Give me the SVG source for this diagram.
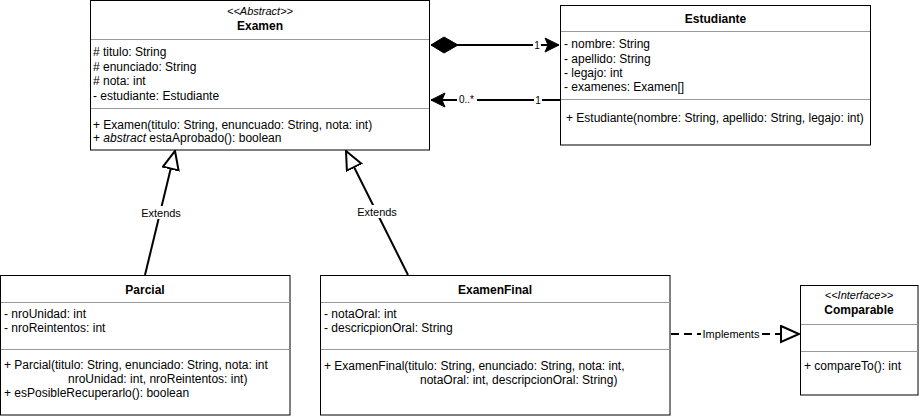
<svg xmlns="http://www.w3.org/2000/svg" width="921" height="419" viewBox="0 0 921 419">
<style>
text{font-family:"Liberation Sans",Arial,sans-serif;fill:#000}
.t{font-size:12px}
.h{font-size:12px;font-weight:bold;text-anchor:middle}
.s{font-size:11px;font-style:italic;text-anchor:middle}
.l{font-size:11px;text-anchor:middle}
.m{font-size:10px;text-anchor:middle}
.box{fill:#fff;stroke:#000;stroke-width:1}
.sep{stroke:#999;stroke-width:1}
.c{fill:none;stroke:#000;stroke-width:2}
.bg{fill:#fff}
</style>
<defs>
<marker id="tri" markerUnits="userSpaceOnUse" markerWidth="22" markerHeight="20" refX="19" refY="9" orient="auto">
<path d="M1,1 L19,9 L1,17 Z" fill="#fff" stroke="#000" stroke-width="2"/>
</marker>
<marker id="open" markerUnits="userSpaceOnUse" markerWidth="18" markerHeight="16" refX="15" refY="8" orient="auto">
<path d="M1,1 L15,8 L1,15 L4,8 Z" fill="#000" stroke="#000" stroke-width="1"/>
</marker>
<marker id="diamond" markerUnits="userSpaceOnUse" markerWidth="32" markerHeight="20" refX="1" refY="9" orient="auto">
<path d="M1,9 L14,1 L28,9 L14,17 Z" fill="#000" stroke="#000" stroke-width="1"/>
</marker>
</defs>

<g id="connectors">
<line class="c" x1="431" y1="45" x2="559" y2="45" marker-start="url(#diamond)" marker-end="url(#open)"/>
<rect class="bg" x="533" y="39" width="8" height="12"/>
<text class="m" x="537" y="48.5">1</text>
<line class="c" x1="560" y1="100" x2="431" y2="100" marker-end="url(#open)"/>
<rect class="bg" x="457" y="94" width="20" height="12"/>
<text class="m" x="466.5" y="103">0..*</text>
<rect class="bg" x="534" y="94" width="8" height="12"/>
<text class="m" x="538" y="103.5">1</text>
<line class="c" x1="145" y1="275" x2="175" y2="151" marker-end="url(#tri)"/>
<rect class="bg" x="140" y="206" width="42" height="13"/>
<text class="l" x="161" y="216.5">Extends</text>
<line class="c" x1="408" y1="275" x2="346" y2="151" marker-end="url(#tri)"/>
<rect class="bg" x="356" y="205" width="42" height="13"/>
<text class="l" x="377" y="216">Extends</text>
<line class="c" x1="671" y1="334" x2="799" y2="334" stroke-dasharray="8,5" marker-end="url(#tri)"/>
<rect class="bg" x="701" y="327" width="60" height="13"/>
<text class="l" x="731" y="338">Implements</text>
</g>

<g id="Examen">
<rect class="box" x="90.5" y="0.5" width="339" height="149.5"/>
<line class="sep" x1="91" y1="39.5" x2="429" y2="39.5"/>
<line class="sep" x1="91" y1="108.5" x2="429" y2="108.5"/>
<text class="s" x="260" y="15">&lt;&lt;Abstract&gt;&gt;</text>
<text class="h" x="260" y="29.5">Examen</text>
<text class="t" x="93" y="56"># titulo: String</text>
<text class="t" x="93" y="70.5"># enunciado: String</text>
<text class="t" x="93" y="85"># nota: int</text>
<text class="t" x="93" y="100">- estudiante: Estudiante</text>
<text class="t" x="93" y="128.5">+ Examen(titulo: String, enuncuado: String, nota: int)</text>
<text class="t" x="93" y="142">+ <tspan font-style="italic">abstract</tspan> estaAprobado(): boolean</text>
</g>

<g id="Estudiante">
<rect class="box" x="560.5" y="5.5" width="310" height="139.5"/>
<line class="sep" x1="561" y1="31.5" x2="870" y2="31.5"/>
<line class="sep" x1="561" y1="99.5" x2="870" y2="99.5"/>
<text class="h" x="715.5" y="23">Estudiante</text>
<text class="t" x="564" y="48">- nombre: String</text>
<text class="t" x="564" y="62.5">- apellido: String</text>
<text class="t" x="564" y="76.5">- legajo: int</text>
<text class="t" x="564" y="91">- examenes: Examen[]</text>
<text class="t" x="566" y="121.5">+ Estudiante(nombre: String, apellido: String, legajo: int)</text>
</g>

<g id="Parcial">
<rect class="box" x="0.5" y="275.5" width="289.5" height="139.5"/>
<line class="sep" x1="1" y1="302.5" x2="290" y2="302.5"/>
<line class="sep" x1="1" y1="349.5" x2="290" y2="349.5"/>
<text class="h" x="145" y="294">Parcial</text>
<text class="t" x="4" y="317.5">- nroUnidad: int</text>
<text class="t" x="4" y="331.5">- nroReintentos: int</text>
<text class="t" x="4" y="368.5">+ Parcial(titulo: String, enunciado: String, nota: int</text>
<text class="t" x="68" y="382.5">nroUnidad: int, nroReintentos: int)</text>
<text class="t" x="4" y="396.5">+ esPosibleRecuperarlo(): boolean</text>
</g>

<g id="ExamenFinal">
<rect class="box" x="320.5" y="275.5" width="349.5" height="139.5"/>
<line class="sep" x1="321" y1="302.5" x2="670" y2="302.5"/>
<line class="sep" x1="321" y1="349.5" x2="670" y2="349.5"/>
<text class="h" x="495" y="294">ExamenFinal</text>
<text class="t" x="324" y="318">- notaOral: int</text>
<text class="t" x="324" y="332">- descricpionOral: String</text>
<text class="t" x="324" y="369.5">+ ExamenFinal(titulo: String, enunciado: String, nota: int,</text>
<text class="t" x="420" y="383.5">notaOral: int, descripcionOral: String)</text>
</g>

<g id="Comparable">
<rect class="box" x="800.5" y="285.5" width="117.5" height="109.5"/>
<line class="sep" x1="801" y1="324.5" x2="918" y2="324.5"/>
<line class="sep" x1="801" y1="351.5" x2="918" y2="351.5"/>
<text class="s" x="859" y="299">&lt;&lt;Interface&gt;&gt;</text>
<text class="h" x="859" y="314">Comparable</text>
<text class="t" x="804" y="369.5">+ compareTo(): int</text>
</g>
</svg>
